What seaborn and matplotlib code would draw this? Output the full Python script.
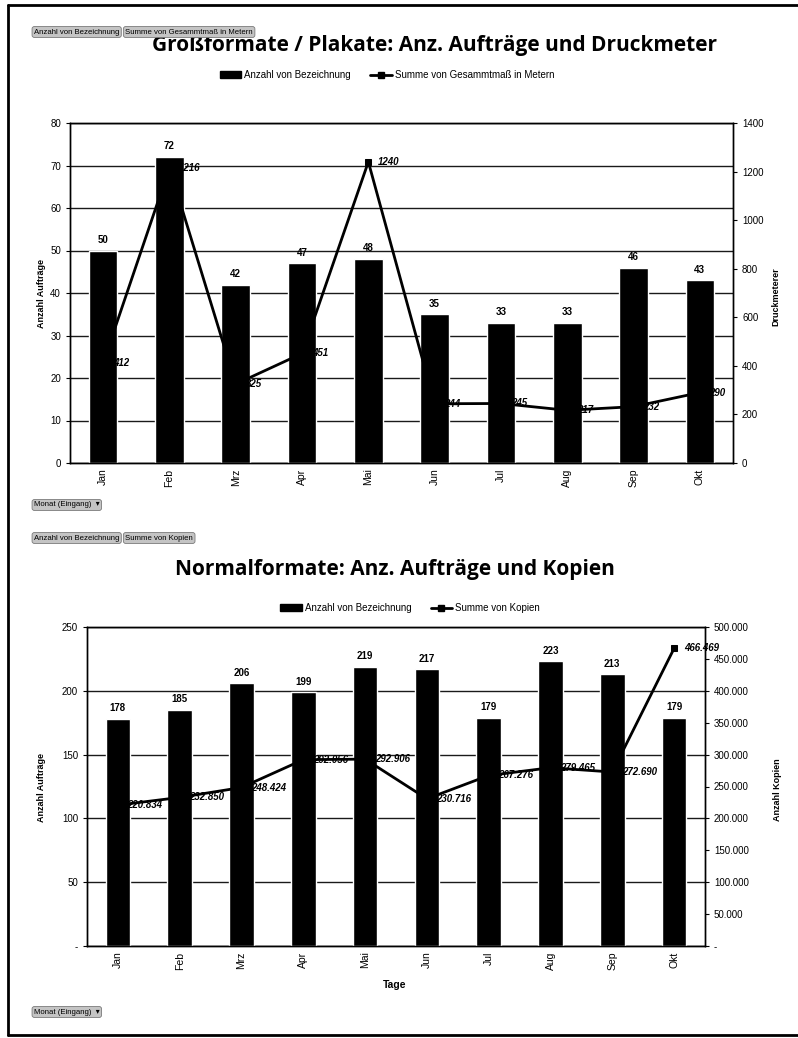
import numpy as np
import pandas as pd
import matplotlib
matplotlib.use("Agg")
import matplotlib.pyplot as plt
import seaborn as sns
from matplotlib.lines import Line2D
from matplotlib.patches import Patch
from matplotlib.ticker import FuncFormatter

# ---- data -------------------------------------------------------------
months = ["Jan", "Feb", "Mrz", "Apr", "Mai", "Jun", "Jul", "Aug", "Sep", "Okt"]

auftraege_gross = [50, 72, 42, 47, 48, 35, 33, 33, 46, 43]
druckmeter = [412, 1216, 325, 451, 1240, 244, 245, 217, 232, 290]

auftraege_normal = [178, 185, 206, 199, 219, 217, 179, 223, 213, 179]
kopien = [220834, 232850, 248424, 292056, 292906, 230716, 267276, 279465, 272690, 466469]

gross_ticks_left = [0, 10, 20, 30, 40, 50, 60, 70, 80]
gross_ticks_right = [0, 200, 400, 600, 800, 1000, 1200, 1400]
normal_ticks_left = [0, 50, 100, 150, 200, 250]
normal_ticks_right = [0, 50000, 100000, 150000, 200000, 250000, 300000, 350000, 400000, 450000, 500000]

# ---- style ------------------------------------------------------------
sns.set_style("white")
plt.rcParams["font.family"] = ["Liberation Sans", "DejaVu Sans"]
for key in ("text.color", "axes.labelcolor", "xtick.color", "ytick.color"):
    plt.rcParams[key] = "black"

W, H = 798, 1038
fig = plt.figure(figsize=(W / 100, H / 100), dpi=100)


def rect(l, t, r, b):
    return [l / W, 1 - b / H, (r - l) / W, (b - t) / H]


def de_num(v):
    return f"{int(round(v)):,}".replace(",", ".")


def panel(box, bars, line, ticks_l, ticks_r, fmt_l, fmt_r, fmt_lab, bar_w):
    ax = fig.add_axes(rect(*box))
    df = pd.DataFrame({"Monat": months, "Anzahl": bars, "Summe": line})
    sns.barplot(data=df, x="Monat", y="Anzahl", color="black", width=bar_w,
                saturation=1, ax=ax, zorder=3)
    ax.set_ylim(ticks_l[0], ticks_l[-1])
    ax.set_yticks(ticks_l)
    ax.yaxis.set_major_formatter(FuncFormatter(fmt_l))
    ax.yaxis.grid(True, color="#1a1a1a", lw=1.0)
    ax.set_axisbelow(True)
    ax.set_xlabel("")
    ax.set_ylabel("")
    ax.set_xlim(-0.5, len(months) - 0.5)
    ax.set_xticks(np.arange(-0.5, len(months)), minor=True)
    ax.tick_params(axis="x", which="major", length=0, labelsize=7.5,
                   labelrotation=90, pad=4)
    ax.tick_params(axis="x", which="minor", length=3, width=0.8,
                   direction="out", color="black")
    ax.tick_params(axis="y", length=3, width=0.8, direction="out",
                   labelsize=7, color="black", left=True)
    for s in ax.spines.values():
        s.set_color("black")
        s.set_linewidth(1.0)

    for p, v in zip(ax.patches, bars):
        ax.annotate(str(v), (p.get_x() + p.get_width() / 2, p.get_height()),
                    xytext=(0, 4), textcoords="offset points", ha="center",
                    va="bottom", fontsize=7, fontweight="bold")

    ax2 = ax.twinx()
    sns.lineplot(data=df, x="Monat", y="Summe", ax=ax2, color="black", lw=2,
                 marker="s", markersize=4, markeredgecolor="black", sort=False)
    ax2.set_ylim(ticks_r[0], ticks_r[-1])
    ax2.set_yticks(ticks_r)
    ax2.yaxis.set_major_formatter(FuncFormatter(fmt_r))
    ax2.set_ylabel("")
    ax2.tick_params(axis="y", length=3, width=0.8, direction="out",
                    labelsize=7, color="black", right=True)
    for s in ax2.spines.values():
        s.set_color("black")
        s.set_linewidth(1.0)
    for i, v in enumerate(line):
        ax2.annotate(fmt_lab(v), (i, v), xytext=(7, 0), textcoords="offset points",
                     ha="left", va="center", fontsize=7, fontweight="bold",
                     fontstyle="italic")
    return ax, ax2


# ---- upper chart: large formats ----------------------------------------
panel((70, 123, 733, 463), auftraege_gross, druckmeter,
      gross_ticks_left, gross_ticks_right,
      lambda v, p: f"{int(v)}", lambda v, p: f"{int(v)}",
      lambda v: str(v), 0.43)

fig.text(435 / W, 1 - 45 / H, "Großformate / Plakate: Anz. Aufträge und Druckmeter",
         ha="center", va="center", fontsize=15, fontweight="bold",
         family=["Open Sans", "DejaVu Sans"])
fig.text(42 / W, 1 - 293 / H, "Anzahl Aufträge", rotation=90, ha="center",
         va="center", fontsize=6.5, fontweight="bold")
fig.text(776 / W, 1 - 297 / H, "Druckmeterer", rotation=90, ha="center",
         va="center", fontsize=6.5, fontweight="bold")

handles_top = [Patch(facecolor="black", edgecolor="black"),
               Line2D([], [], color="black", lw=2, marker="s", markersize=4)]
fig.legend(handles_top, ["Anzahl von Bezeichnung", "Summe von Gesammtmaß in Metern"],
           loc="center", bbox_to_anchor=(387 / W, 1 - 75 / H), ncol=2, frameon=False,
           fontsize=7, handlelength=2.2, handleheight=0.6, columnspacing=2.0,
           handletextpad=0.3)

# ---- lower chart: normal formats ---------------------------------------
panel((87, 627, 705, 946), auftraege_normal, kopien,
      normal_ticks_left, normal_ticks_right,
      lambda v, p: "-" if v == 0 else f"{int(v)}",
      lambda v, p: "-" if v == 0 else de_num(v),
      de_num, 0.40)

fig.text(395 / W, 1 - 570 / H, "Normalformate: Anz. Aufträge und Kopien",
         ha="center", va="center", fontsize=15, fontweight="bold",
         family=["Open Sans", "DejaVu Sans"])
fig.text(42 / W, 1 - 787 / H, "Anzahl Aufträge", rotation=90, ha="center",
         va="center", fontsize=6.5, fontweight="bold")
fig.text(778 / W, 1 - 790 / H, "Anzahl Kopien", rotation=90, ha="center",
         va="center", fontsize=6.5, fontweight="bold")
fig.text(395 / W, 1 - 985 / H, "Tage", ha="center", va="center",
         fontsize=7.5, fontweight="bold")

handles_bot = [Patch(facecolor="black", edgecolor="black"),
               Line2D([], [], color="black", lw=2, marker="s", markersize=4)]
fig.legend(handles_bot, ["Anzahl von Bezeichnung", "Summe von Kopien"],
           loc="center", bbox_to_anchor=(410 / W, 1 - 608 / H), ncol=2, frameon=False,
           fontsize=7, handlelength=2.2, handleheight=0.6, columnspacing=2.0,
           handletextpad=0.3)

# ---- pivot field buttons -----------------------------------------------
btn = dict(boxstyle="round,pad=0.25,rounding_size=0.3", facecolor="#c4c4c4",
           edgecolor="#7a7a7a", lw=0.6)


def button_row(x, y, texts):
    """Place adjacent pivot-field buttons starting at pixel x."""
    renderer = fig.canvas.get_renderer()
    for text in texts:
        t = fig.text(x / W, 1 - y / H, text, ha="left", va="center", fontsize=5.6,
                     bbox=btn, family=["Liberation Sans", "DejaVu Sans"])
        ext = t.get_bbox_patch().get_window_extent(renderer) \
            if t.get_bbox_patch() is not None else None
        fig.canvas.draw()
        ext = t.get_bbox_patch().get_window_extent(renderer)
        x = ext.x1 + 4


button_row(34, 32, ["Anzahl von Bezeichnung", "Summe von Gesammtmaß in Metern"])
button_row(34, 505, ["Monat (Eingang)  ▾"])
button_row(34, 538, ["Anzahl von Bezeichnung", "Summe von Kopien"])
button_row(34, 1012, ["Monat (Eingang)  ▾"])

# ---- page frame --------------------------------------------------------
frame_kw = dict(color="black", lw=2, transform=fig.transFigure)
fig.add_artist(Line2D([8 / W, 8 / W], [1 - 5 / H, 1 - 1035 / H], **frame_kw))
fig.add_artist(Line2D([8 / W, 1], [1 - 5 / H, 1 - 5 / H], **frame_kw))
fig.add_artist(Line2D([8 / W, 1], [1 - 1035 / H, 1 - 1035 / H], **frame_kw))

fig.savefig("out.png", dpi=100)
